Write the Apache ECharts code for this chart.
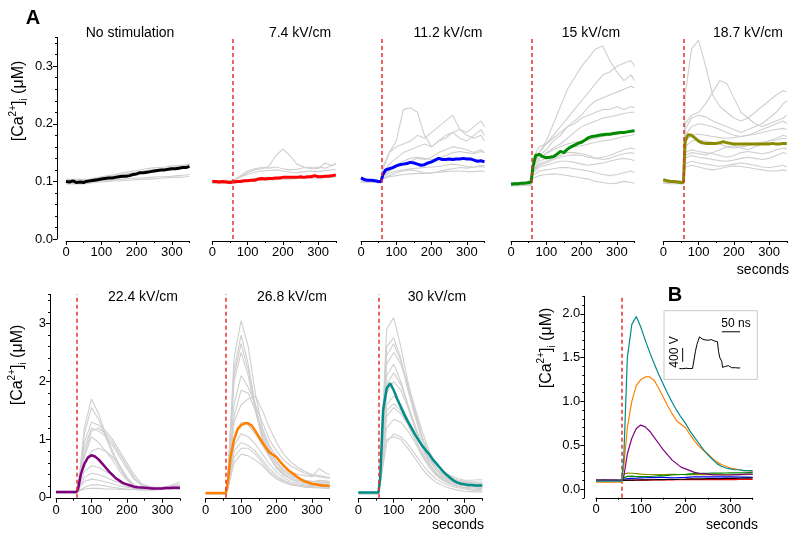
<!DOCTYPE html>
<html><head><meta charset="utf-8">
<script src="https://cdn.jsdelivr.net/npm/echarts@6/dist/echarts.min.js"></script>
<style>html,body{margin:0;padding:0;background:#fff}#c{width:800px;height:539px}</style>
</head><body><div id="c"></div>
<script>
// ---------------- DATA ----------------
const timeMean = [0,10,20,30,40,50,57,62,70,80,90,100,110,120,130,140,150,160,170,180,190,200,210,220,230,240,250,260,270,280,290,300,310,320,330,340,350];
const timeGrey = [0,20,40,57,62,80,100,120,140,160,180,200,220,240,260,280,300,320,340,350];
const stimTime = 58;
const xTickValues = [0,100,200,300];
const yTicksTop = [0,0.1,0.2,0.3];
const yTicksBottom = [0,1,2,3];
const yTicksB = [0,0.5,1,1.5,2];
const panelTitles = ['No stimulation','7.4 kV/cm','11.2 kV/cm','15 kV/cm','18.7 kV/cm','22.4 kV/cm','26.8 kV/cm','30 kV/cm'];

const meanNoStim = [0.100,0.099,0.101,0.098,0.099,0.098,0.100,0.099,0.101,0.102,0.103,0.104,0.105,0.106,0.106,0.107,0.108,0.109,0.109,0.110,0.112,0.113,0.115,0.115,0.116,0.117,0.118,0.119,0.120,0.120,0.121,0.122,0.122,0.123,0.124,0.124,0.126];
const mean74 = [0.100,0.100,0.099,0.100,0.099,0.098,0.099,0.099,0.100,0.100,0.101,0.101,0.102,0.102,0.104,0.105,0.104,0.105,0.105,0.106,0.106,0.107,0.107,0.107,0.107,0.107,0.108,0.107,0.108,0.108,0.110,0.108,0.108,0.109,0.109,0.110,0.111];
const mean112 = [0.106,0.103,0.102,0.102,0.101,0.100,0.100,0.112,0.120,0.122,0.124,0.127,0.129,0.130,0.131,0.133,0.132,0.130,0.128,0.129,0.132,0.134,0.137,0.140,0.138,0.138,0.139,0.138,0.139,0.139,0.140,0.139,0.139,0.137,0.135,0.136,0.134];
const mean15 = [0.095,0.096,0.096,0.097,0.097,0.098,0.099,0.125,0.145,0.147,0.143,0.141,0.142,0.143,0.147,0.152,0.150,0.156,0.160,0.163,0.166,0.168,0.172,0.176,0.178,0.179,0.180,0.181,0.182,0.182,0.183,0.184,0.185,0.185,0.186,0.187,0.188];
const mean187 = [0.103,0.101,0.100,0.100,0.099,0.098,0.098,0.170,0.181,0.180,0.175,0.170,0.167,0.166,0.166,0.166,0.166,0.167,0.169,0.167,0.166,0.165,0.165,0.165,0.165,0.165,0.165,0.165,0.165,0.165,0.165,0.165,0.166,0.165,0.165,0.166,0.166];
const mean224 = [0.10,0.10,0.10,0.10,0.10,0.10,0.10,0.14,0.40,0.58,0.69,0.73,0.71,0.66,0.59,0.52,0.45,0.39,0.33,0.29,0.25,0.23,0.21,0.19,0.18,0.175,0.17,0.165,0.16,0.16,0.16,0.16,0.165,0.165,0.17,0.17,0.17];
const mean268 = [0.08,0.08,0.08,0.08,0.08,0.08,0.08,0.25,0.70,1.00,1.18,1.25,1.28,1.28,1.24,1.15,1.05,0.95,0.86,0.78,0.74,0.70,0.62,0.55,0.49,0.44,0.40,0.35,0.31,0.28,0.26,0.24,0.23,0.22,0.21,0.21,0.20];
const mean30 = [0.09,0.09,0.09,0.09,0.09,0.09,0.09,0.35,1.50,1.88,1.97,1.85,1.70,1.56,1.43,1.31,1.20,1.09,0.99,0.90,0.82,0.75,0.66,0.59,0.52,0.45,0.39,0.34,0.29,0.26,0.24,0.23,0.22,0.22,0.21,0.21,0.21];

const greyNoStim = [
 [0.098,0.097,0.098,0.099,0.099,0.100,0.101,0.102,0.103,0.104,0.105,0.106,0.106,0.107,0.108,0.108,0.109,0.110,0.111,0.112],
 [0.102,0.100,0.101,0.102,0.103,0.105,0.106,0.108,0.110,0.112,0.114,0.116,0.118,0.120,0.121,0.122,0.124,0.126,0.128,0.130],
 [0.095,0.096,0.095,0.096,0.097,0.098,0.099,0.100,0.101,0.101,0.102,0.103,0.104,0.104,0.105,0.106,0.107,0.107,0.108,0.109],
 [0.104,0.103,0.104,0.103,0.104,0.106,0.108,0.110,0.112,0.115,0.117,0.119,0.121,0.123,0.124,0.125,0.127,0.128,0.129,0.131]
];
const grey74 = [
 [0.100,0.099,0.100,0.100,0.103,0.108,0.115,0.120,0.122,0.126,0.145,0.156,0.145,0.130,0.125,0.124,0.122,0.132,0.127,0.130],
 [0.100,0.101,0.100,0.101,0.104,0.110,0.118,0.122,0.124,0.123,0.125,0.122,0.120,0.121,0.124,0.122,0.125,0.123,0.128,0.132],
 [0.098,0.097,0.099,0.098,0.100,0.102,0.103,0.105,0.106,0.106,0.107,0.108,0.108,0.108,0.109,0.109,0.110,0.110,0.111,0.112],
 [0.102,0.101,0.102,0.101,0.104,0.108,0.112,0.116,0.118,0.119,0.120,0.118,0.116,0.115,0.117,0.118,0.117,0.119,0.120,0.121],
 [0.097,0.096,0.097,0.096,0.097,0.099,0.100,0.101,0.102,0.103,0.103,0.104,0.104,0.105,0.105,0.106,0.106,0.107,0.107,0.108]
];
const grey112 = [
 [0.105,0.103,0.102,0.101,0.120,0.150,0.170,0.225,0.228,0.220,0.180,0.160,0.170,0.175,0.185,0.190,0.180,0.175,0.180,0.170],
 [0.104,0.102,0.101,0.100,0.125,0.150,0.160,0.165,0.170,0.180,0.175,0.185,0.195,0.205,0.215,0.190,0.185,0.195,0.205,0.195],
 [0.103,0.102,0.101,0.101,0.115,0.130,0.140,0.150,0.155,0.160,0.165,0.160,0.170,0.180,0.185,0.175,0.170,0.180,0.190,0.180],
 [0.100,0.099,0.099,0.098,0.110,0.118,0.125,0.130,0.135,0.140,0.138,0.142,0.150,0.155,0.160,0.158,0.155,0.150,0.155,0.150],
 [0.101,0.100,0.100,0.099,0.108,0.114,0.118,0.120,0.122,0.123,0.124,0.125,0.126,0.128,0.130,0.128,0.126,0.125,0.126,0.124],
 [0.099,0.098,0.098,0.098,0.104,0.108,0.110,0.112,0.113,0.114,0.114,0.115,0.116,0.117,0.118,0.118,0.117,0.117,0.118,0.117],
 [0.100,0.099,0.098,0.097,0.106,0.110,0.115,0.118,0.120,0.118,0.115,0.114,0.117,0.120,0.122,0.124,0.123,0.125,0.127,0.128],
 [0.102,0.101,0.100,0.099,0.112,0.120,0.128,0.135,0.140,0.142,0.140,0.138,0.140,0.145,0.150,0.152,0.150,0.148,0.152,0.150]
];
const grey15 = [
 [0.097,0.096,0.097,0.098,0.130,0.150,0.170,0.200,0.230,0.260,0.280,0.300,0.315,0.330,0.335,0.310,0.290,0.275,0.285,0.275],
 [0.098,0.097,0.098,0.098,0.135,0.150,0.165,0.180,0.195,0.210,0.225,0.240,0.255,0.270,0.285,0.290,0.300,0.305,0.310,0.300],
 [0.096,0.096,0.097,0.097,0.130,0.145,0.155,0.170,0.180,0.195,0.205,0.215,0.230,0.240,0.245,0.250,0.255,0.260,0.265,0.262],
 [0.097,0.097,0.097,0.098,0.140,0.160,0.165,0.175,0.185,0.195,0.200,0.210,0.215,0.220,0.225,0.225,0.230,0.225,0.230,0.228],
 [0.095,0.095,0.096,0.096,0.125,0.140,0.150,0.158,0.165,0.175,0.185,0.195,0.200,0.205,0.210,0.212,0.215,0.218,0.220,0.220],
 [0.098,0.098,0.099,0.099,0.120,0.130,0.135,0.140,0.145,0.150,0.150,0.148,0.145,0.140,0.138,0.140,0.145,0.148,0.150,0.148],
 [0.094,0.094,0.095,0.095,0.115,0.125,0.128,0.132,0.135,0.135,0.133,0.130,0.128,0.130,0.132,0.135,0.138,0.140,0.138,0.136],
 [0.093,0.093,0.094,0.094,0.110,0.118,0.120,0.122,0.124,0.124,0.122,0.120,0.118,0.115,0.112,0.110,0.112,0.115,0.118,0.115],
 [0.092,0.092,0.093,0.093,0.105,0.110,0.112,0.113,0.112,0.110,0.108,0.106,0.104,0.100,0.098,0.096,0.097,0.100,0.098,0.097],
 [0.096,0.096,0.096,0.097,0.120,0.135,0.140,0.145,0.150,0.155,0.160,0.162,0.165,0.168,0.170,0.172,0.175,0.178,0.180,0.182],
 [0.097,0.097,0.097,0.098,0.125,0.140,0.148,0.155,0.160,0.165,0.168,0.170,0.172,0.175,0.178,0.180,0.182,0.185,0.188,0.190],
 [0.095,0.095,0.096,0.096,0.118,0.128,0.132,0.138,0.142,0.145,0.146,0.145,0.142,0.140,0.142,0.145,0.150,0.155,0.158,0.156]
];
const grey187 = [
 [0.104,0.102,0.101,0.100,0.250,0.330,0.345,0.300,0.250,0.230,0.220,0.210,0.205,0.210,0.220,0.230,0.240,0.250,0.258,0.255],
 [0.102,0.101,0.100,0.099,0.200,0.215,0.220,0.235,0.255,0.275,0.270,0.245,0.220,0.210,0.200,0.195,0.200,0.205,0.210,0.215],
 [0.100,0.099,0.099,0.098,0.190,0.210,0.215,0.212,0.205,0.200,0.195,0.190,0.185,0.190,0.195,0.200,0.210,0.220,0.235,0.240],
 [0.099,0.098,0.098,0.097,0.180,0.195,0.200,0.198,0.195,0.190,0.185,0.180,0.178,0.180,0.185,0.190,0.195,0.200,0.205,0.200],
 [0.101,0.100,0.099,0.099,0.160,0.170,0.172,0.170,0.168,0.165,0.160,0.158,0.160,0.162,0.165,0.168,0.170,0.172,0.175,0.173],
 [0.098,0.097,0.097,0.096,0.150,0.155,0.152,0.150,0.148,0.145,0.142,0.145,0.150,0.152,0.150,0.148,0.150,0.155,0.158,0.156],
 [0.100,0.099,0.098,0.098,0.140,0.145,0.142,0.140,0.138,0.136,0.135,0.137,0.140,0.142,0.140,0.138,0.140,0.145,0.150,0.148],
 [0.097,0.096,0.096,0.095,0.130,0.135,0.132,0.130,0.128,0.126,0.128,0.130,0.132,0.130,0.128,0.125,0.124,0.126,0.128,0.125],
 [0.099,0.098,0.097,0.097,0.125,0.128,0.125,0.122,0.120,0.122,0.125,0.127,0.126,0.124,0.122,0.120,0.118,0.118,0.120,0.118],
 [0.101,0.100,0.099,0.098,0.170,0.180,0.182,0.180,0.178,0.176,0.175,0.176,0.178,0.180,0.182,0.185,0.188,0.190,0.192,0.190],
 [0.099,0.098,0.098,0.097,0.145,0.150,0.148,0.146,0.150,0.155,0.160,0.162,0.158,0.155,0.160,0.165,0.170,0.175,0.180,0.178]
];
const grey224 = [
 [0.08,0.08,0.08,0.08,0.15,1.20,1.70,1.45,1.10,0.80,0.55,0.35,0.22,0.18,0.16,0.15,0.15,0.15,0.16,0.16],
 [0.09,0.09,0.09,0.09,0.14,0.95,1.30,1.25,1.15,1.00,0.80,0.60,0.40,0.25,0.20,0.18,0.18,0.20,0.25,0.27],
 [0.10,0.10,0.10,0.10,0.13,0.85,1.20,1.15,1.05,0.90,0.70,0.50,0.32,0.22,0.18,0.17,0.17,0.18,0.20,0.22],
 [0.08,0.08,0.08,0.08,0.12,0.70,1.05,0.95,0.80,0.65,0.45,0.30,0.20,0.16,0.15,0.15,0.15,0.15,0.16,0.16],
 [0.11,0.11,0.11,0.11,0.14,0.60,0.80,0.85,0.80,0.70,0.55,0.35,0.22,0.18,0.17,0.17,0.18,0.20,0.22,0.22],
 [0.09,0.09,0.09,0.09,0.12,0.35,0.42,0.40,0.35,0.30,0.25,0.20,0.17,0.16,0.15,0.15,0.15,0.16,0.17,0.17],
 [0.10,0.10,0.10,0.10,0.12,0.28,0.32,0.30,0.27,0.24,0.20,0.18,0.16,0.15,0.15,0.15,0.15,0.15,0.16,0.16],
 [0.08,0.08,0.08,0.08,0.10,0.18,0.22,0.22,0.20,0.18,0.16,0.15,0.14,0.14,0.14,0.14,0.14,0.14,0.15,0.15],
 [0.09,0.09,0.09,0.09,0.11,0.15,0.16,0.16,0.15,0.15,0.14,0.14,0.14,0.13,0.13,0.13,0.14,0.14,0.14,0.14],
 [0.09,0.09,0.09,0.09,0.14,1.10,1.55,1.35,1.05,0.75,0.50,0.32,0.21,0.17,0.16,0.15,0.15,0.16,0.17,0.17],
 [0.10,0.10,0.10,0.10,0.13,0.75,1.15,1.20,1.10,0.95,0.75,0.55,0.35,0.22,0.18,0.17,0.17,0.18,0.20,0.21],
 [0.09,0.09,0.09,0.09,0.12,0.45,0.55,0.52,0.45,0.38,0.30,0.22,0.18,0.16,0.15,0.15,0.15,0.16,0.17,0.18]
];
const grey268 = [
 [0.07,0.07,0.07,0.07,0.30,2.40,3.05,2.60,1.80,1.20,0.90,0.70,0.55,0.45,0.40,0.38,0.36,0.50,0.42,0.40],
 [0.07,0.07,0.07,0.07,0.28,2.20,2.80,2.30,1.60,1.10,0.80,0.60,0.45,0.38,0.33,0.30,0.28,0.27,0.27,0.26],
 [0.08,0.08,0.08,0.08,0.25,2.00,2.50,2.10,1.50,1.00,0.70,0.50,0.38,0.32,0.28,0.26,0.25,0.24,0.24,0.23],
 [0.07,0.07,0.07,0.07,0.22,1.60,2.10,1.90,1.60,1.30,1.00,0.80,0.65,0.55,0.48,0.42,0.38,0.36,0.34,0.33],
 [0.08,0.08,0.08,0.08,0.20,1.30,1.60,1.70,1.75,1.50,1.20,0.95,0.75,0.62,0.52,0.45,0.40,0.38,0.36,0.35],
 [0.07,0.07,0.07,0.07,0.18,1.00,1.30,1.25,1.10,0.90,0.70,0.52,0.40,0.32,0.27,0.24,0.22,0.21,0.20,0.20],
 [0.08,0.08,0.08,0.08,0.15,0.80,0.95,0.90,0.80,0.65,0.50,0.38,0.30,0.25,0.22,0.20,0.19,0.18,0.18,0.18],
 [0.07,0.07,0.07,0.07,0.13,0.60,0.75,0.72,0.65,0.55,0.42,0.32,0.26,0.22,0.20,0.18,0.17,0.17,0.16,0.16],
 [0.08,0.08,0.08,0.08,0.15,0.70,0.85,0.85,0.75,0.60,0.45,0.35,0.28,0.24,0.21,0.19,0.18,0.17,0.17,0.17],
 [0.07,0.07,0.07,0.07,0.27,2.10,2.65,2.20,1.55,1.05,0.75,0.55,0.42,0.35,0.30,0.28,0.27,0.30,0.29,0.28],
 [0.08,0.08,0.08,0.08,0.20,1.40,1.85,1.80,1.50,1.15,0.85,0.62,0.48,0.40,0.34,0.30,0.28,0.27,0.26,0.26],
 [0.07,0.07,0.07,0.07,0.16,0.90,1.10,1.05,0.92,0.75,0.58,0.44,0.34,0.28,0.24,0.22,0.21,0.20,0.20,0.20]
];
const grey30 = [
 [0.08,0.08,0.08,0.08,0.50,2.90,3.10,2.60,2.00,1.50,1.05,0.70,0.50,0.38,0.32,0.28,0.26,0.25,0.24,0.24],
 [0.08,0.08,0.08,0.08,0.45,2.60,2.75,2.40,1.90,1.45,1.05,0.75,0.55,0.42,0.35,0.30,0.28,0.27,0.27,0.27],
 [0.09,0.09,0.09,0.09,0.40,2.30,2.50,2.30,1.95,1.55,1.15,0.80,0.58,0.45,0.38,0.33,0.30,0.30,0.31,0.31],
 [0.08,0.08,0.08,0.08,0.40,2.10,2.30,2.00,1.60,1.20,0.85,0.60,0.42,0.32,0.26,0.22,0.20,0.19,0.18,0.18],
 [0.07,0.07,0.07,0.07,0.35,1.80,2.00,1.85,1.55,1.20,0.90,0.65,0.48,0.36,0.29,0.25,0.22,0.21,0.20,0.20],
 [0.08,0.08,0.08,0.08,0.30,1.40,1.55,1.45,1.25,1.00,0.75,0.55,0.40,0.30,0.24,0.20,0.18,0.17,0.16,0.16],
 [0.07,0.07,0.07,0.07,0.28,1.20,1.35,1.30,1.15,0.95,0.72,0.52,0.38,0.29,0.23,0.19,0.17,0.15,0.14,0.14],
 [0.08,0.08,0.08,0.08,0.25,0.95,1.10,1.05,0.92,0.75,0.58,0.43,0.32,0.25,0.20,0.17,0.15,0.13,0.12,0.12],
 [0.07,0.07,0.07,0.07,0.25,1.00,1.05,1.00,0.85,0.68,0.50,0.36,0.26,0.20,0.16,0.13,0.11,0.10,0.10,0.10],
 [0.08,0.08,0.08,0.08,0.35,1.60,1.75,1.60,1.35,1.10,0.85,0.65,0.50,0.40,0.34,0.30,0.28,0.26,0.25,0.25],
 [0.08,0.08,0.08,0.08,0.45,2.45,2.65,2.35,1.85,1.40,1.00,0.70,0.50,0.38,0.31,0.27,0.25,0.24,0.24,0.24],
 [0.07,0.07,0.07,0.07,0.38,1.95,2.15,1.95,1.60,1.25,0.92,0.66,0.48,0.36,0.29,0.25,0.23,0.22,0.22,0.22],
 [0.08,0.08,0.08,0.08,0.30,1.50,1.62,1.50,1.28,1.02,0.78,0.58,0.43,0.33,0.27,0.23,0.21,0.20,0.19,0.19]
];

// inset: high-voltage pulse (ns, V) and scale bars
const pulseTime = [42,50,60,70,78,82,86,90,94,97,101,104,108,112,116,121,125,129,133,137,142,146,149,152,155,158,160,164,168,172,176,180,185,190,195,200,205,208];
const pulseVolt = [0,-10,5,-5,0,10,500,700,820,920,900,860,880,830,850,820,800,840,810,800,820,780,500,330,350,200,30,0,60,10,80,40,20,50,20,40,10,20];
const barTimeNs = [158,208];
const barTimeLevel = 1066;
const barVoltX = 51;
const barVolt = [192,592];

// ---------------- LAYOUT / STYLE ----------------
const FONT = '"Liberation Sans", Arial, Helvetica, sans-serif';
const GREY = '#cfcfcf';
const STIM_COLOR = '#e8312c';
const colors = ['#000000','#ff0000','#0000ff','#008a00','#8a8a00','#800080','#ff8000','#008c87'];
const means = [meanNoStim, mean74, mean112, mean15, mean187, mean224, mean268, mean30];
const greys = [greyNoStim, grey74, grey112, grey15, grey187, grey224, grey268, grey30];

const TOP_Y0 = 239, TOP_UNIT = 576;
const BOT_Y0 = 497.7, BOT_UNIT = 58.1;
const layout = [
  {left:66,    width:123.5, row:0, showY:true,  stim:false, tx:130, ty:33},
  {left:212.3, width:123.5, row:0, showY:false, stim:true, tx:300, ty:33},
  {left:361,   width:123.5, row:0, showY:false, stim:true, tx:448, ty:33},
  {left:511,   width:123.5, row:0, showY:false, stim:true, tx:591, ty:33},
  {left:663.3, width:123.5, row:0, showY:false, stim:true, tx:748, ty:33},
  {left:56,    width:124, row:1, showY:true,  stim:true, tx:143, ty:297},
  {left:205.7, width:124, row:1, showY:false, stim:true, tx:292, ty:297},
  {left:358.3, width:124, row:1, showY:false, stim:true, tx:437, ty:297}
];
const layoutB = {left:596, top:296.3, width:156.7, height:201.5};
const layoutInset = {left:664, top:310.7, width:93.3, height:68.7};

function pairs(t, v){ return t.map((x,i)=>[x, v[i]]); }

const grids=[], xAxes=[], yAxes=[], series=[];

function addAxes(gi, o){
  xAxes.push({gridIndex:gi, type:'value', min:0, max:350, interval:50, position:'bottom', offset:o.xoff,
    axisLine:{show:true,onZero:false,lineStyle:{color:'#000',width:1}},
    axisTick:{show:true,length:4,customValues:xTickValues,lineStyle:{color:'#000',width:1}},
    axisLabel:{show:true,customValues:xTickValues,fontSize:13,fontFamily:FONT,color:'#000',margin:5},
    splitLine:{show:false}});
  xAxes.push({gridIndex:gi, type:'value', min:0, max:350, interval:50, position:'bottom', offset:o.xoff,
    axisLine:{show:false,onZero:false}, axisTick:{show:true,length:2,lineStyle:{color:'#000',width:1}},
    axisLabel:{show:false}, splitLine:{show:false}});
  yAxes.push({gridIndex:gi, type:'value', min:o.ymin, max:o.ymax, interval:o.minor, position:'left', offset:o.yoff, show:o.showY,
    axisLine:{show:true,onZero:false,lineStyle:{color:'#000',width:1}},
    axisTick:{show:true,length:4,customValues:o.yticks,lineStyle:{color:'#000',width:1}},
    axisLabel:{show:true,customValues:o.yticks,fontSize:13,fontFamily:FONT,color:'#000',margin:4,formatter:o.fmt},
    splitLine:{show:false}});
  yAxes.push({gridIndex:gi, type:'value', min:o.ymin, max:o.ymax, interval:o.minor, position:'left', offset:o.yoff, show:o.showY,
    axisLine:{show:false,onZero:false}, axisTick:{show:true,length:2,lineStyle:{color:'#000',width:1}},
    axisLabel:{show:false}, splitLine:{show:false}});
}

function stimMark(){
  return {silent:true, symbol:['none','none'], label:{show:false}, animation:false,
    lineStyle:{color:STIM_COLOR,type:[4,3],width:1.5}, emphasis:{disabled:true}, data:[{xAxis:stimTime}]};
}

layout.forEach((p, i) => {
  const top = p.row === 0 ? TOP_Y0 - 0.35*TOP_UNIT : BOT_Y0 - 3.5*BOT_UNIT;
  const height = p.row === 0 ? 0.35*TOP_UNIT : 3.5*BOT_UNIT;
  grids.push({left:p.left, top, width:p.width, height, outerBoundsMode:'none', containLabel:false});
  addAxes(i, p.row === 0
    ? {xoff:2, yoff:9, ymin:0, ymax:0.35, minor:0.02, yticks:yTicksTop, showY:p.showY, fmt:v=>v.toFixed(1)}
    : {xoff:1, yoff:6, ymin:0, ymax:3.5, minor:0.2, yticks:yTicksBottom, showY:p.showY, fmt:v=>String(Math.round(v))});
  greys[i].forEach(g => series.push({type:'line', xAxisIndex:2*i, yAxisIndex:2*i, data:pairs(timeGrey, g),
    showSymbol:false, silent:true, animation:false, z:1, lineStyle:{color:GREY,width:1.1}}));
  const s = {type:'line', xAxisIndex:2*i, yAxisIndex:2*i, data:pairs(timeMean, means[i]), showSymbol:false, silent:true,
    animation:false, z:3, lineStyle:{color:colors[i], width:p.row===0?3:2.5}};
  if (p.stim) s.markLine = stimMark();
  series.push(s);
});

// Panel B
const bi = 8;
grids.push({left:layoutB.left, top:layoutB.top, width:layoutB.width, height:layoutB.height, outerBoundsMode:'none', containLabel:false});
addAxes(bi, {xoff:0, yoff:11.7, ymin:-0.1, ymax:2.2, minor:0.1, yticks:yTicksB, showY:true, fmt:v=>v.toFixed(1)});
[1,2,0,4,3,5,6,7].forEach((k, j) => {
  const s = {type:'line', xAxisIndex:2*bi, yAxisIndex:2*bi, data:pairs(timeMean, means[k]), showSymbol:false, silent:true,
    animation:false, z:2+j, lineStyle:{color:colors[k], width:1.2}};
  if (j === 0) s.markLine = stimMark();
  series.push(s);
});

// Inset
const ii = 9;
grids.push({left:layoutInset.left, top:layoutInset.top, width:layoutInset.width, height:layoutInset.height, show:true,
  borderColor:'#c8c8c8', borderWidth:1, backgroundColor:'#fff', outerBoundsMode:'none', containLabel:false});
xAxes.push({gridIndex:ii, type:'value', min:0, max:255, show:false});
yAxes.push({gridIndex:ii, type:'value', min:-320, max:1680, show:false});
const ix = xAxes.length-1, iy = yAxes.length-1;
series.push({type:'line', xAxisIndex:ix, yAxisIndex:iy, data:pairs(pulseTime, pulseVolt), showSymbol:false, silent:true,
  animation:false, z:20, lineStyle:{color:'#000',width:1}});
series.push({type:'line', xAxisIndex:ix, yAxisIndex:iy, data:barTimeNs.map(t=>[t,barTimeLevel]), showSymbol:false, silent:true,
  animation:false, z:20, lineStyle:{color:'#000',width:1}});
series.push({type:'line', xAxisIndex:ix, yAxisIndex:iy, data:barVolt.map(v=>[barVoltX,v]), showSymbol:false, silent:true,
  animation:false, z:20, lineStyle:{color:'#000',width:1}});

// ---------------- TEXT ----------------
function txt(text, x, y, size, opts){
  opts = opts || {};
  return {type:'text', x, y, rotation:opts.rot||0, z:100, silent:true,
    style:{text, fill:'#000', fontSize:size, fontFamily:FONT, fontWeight:opts.bold?'bold':'normal',
      align:opts.align||'center', verticalAlign:'middle', textAlign:opts.align||'center', textVerticalAlign:'middle'}};
}
function caLabel(x, y){
  return {type:'text', x, y, rotation:Math.PI/2, z:100, silent:true,
    style:{text:'{n|[Ca}{sup|2+}{n|]}{sub|i}{n| (μM)}', align:'center', verticalAlign:'middle', textAlign:'center', textVerticalAlign:'middle',
      rich:{
        n:{fontSize:16, fontFamily:FONT, fill:'#000', lineHeight:21},
        sup:{fontSize:10, fontFamily:FONT, fill:'#000', verticalAlign:'top'},
        sub:{fontSize:10, fontFamily:FONT, fill:'#000', verticalAlign:'bottom'}
      }}};
}
const graphic = [];
layout.forEach((p,i)=> graphic.push(txt(panelTitles[i], p.tx, p.ty, 14)));
graphic.push(txt('A', 33, 18, 20, {bold:true}));
graphic.push(txt('B', 675, 295, 20, {bold:true}));
graphic.push(txt('seconds', 789, 270, 14, {align:'right'}));
graphic.push(txt('seconds', 458, 525, 14));
graphic.push(txt('seconds', 732, 525, 14));
graphic.push(caLabel(19, 101));
graphic.push(caLabel(18, 365));
graphic.push(caLabel(547, 348));
graphic.push(txt('50 ns', 736, 324, 12));
graphic.push(txt('400 V', 675, 352, 12, {rot:Math.PI/2}));

const chart = echarts.init(document.getElementById('c'), null, {renderer:'canvas'});
chart.setOption({animation:false, backgroundColor:'#fff', grid:grids, xAxis:xAxes, yAxis:yAxes, series, graphic});
</script></body></html>
